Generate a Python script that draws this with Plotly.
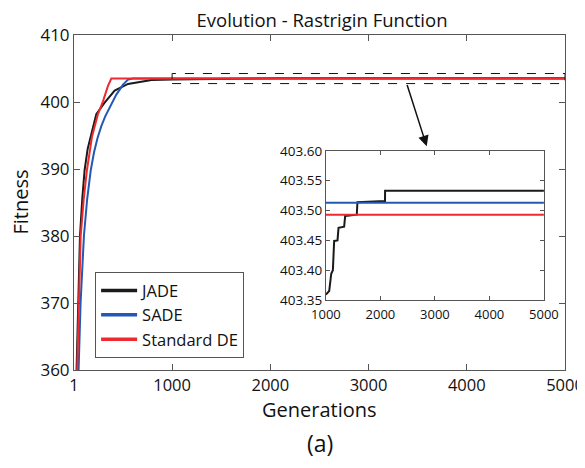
import plotly.graph_objects as go

# ---------------- data ----------------
series_names = ["JADE", "SADE", "Standard DE"]
series_colors = ["#1a1a1a", "#2359b3", "#ee2a2e"]

# main plot (generations vs fitness)
jade_gen = [1, 25, 41, 62, 85, 109, 140, 170, 228, 313, 415, 551, 790, 1000, 1061, 1079, 1098, 1128, 1140, 1152,
            1213, 1232, 1335, 1354, 1567, 1579, 2085, 2086, 5000]
jade_fit = [345, 360, 370, 380, 385.5, 389.85, 393.0, 394.8, 398.2, 399.9, 401.7, 402.7, 403.3, 403.359, 403.365,
            403.379, 403.394, 403.400, 403.423, 403.449, 403.450, 403.471, 403.473, 403.491, 403.493, 403.514,
            403.516, 403.533, 403.533]

sade_gen = [1, 48, 68, 102, 135, 172, 205, 240, 279, 320, 364, 432, 500, 551, 600, 5000]
sade_fit = [337, 360, 370, 380, 385.5, 389.85, 392.5, 394.6, 396.4, 397.9, 399.1, 401.1, 402.6, 403.35, 403.513,
            403.513]

de_gen = [1, 31, 48, 69, 100, 133, 184, 245, 296, 347, 381, 5000]
de_fit = [342, 360, 370, 380, 385.5, 389.85, 394.8, 398.2, 400.1, 402.4, 403.493, 403.493]

# inset (zoom on generations 1000-5000)
jade_in_gen = [1000, 1061, 1079, 1098, 1128, 1140, 1152, 1213, 1232, 1335, 1354, 1567, 1579, 2085, 2086, 5000]
jade_in_fit = [403.359, 403.365, 403.379, 403.394, 403.400, 403.423, 403.449, 403.450, 403.471, 403.473, 403.491,
               403.493, 403.514, 403.516, 403.533, 403.533]
sade_in_gen = [1000, 5000]
sade_in_fit = [403.513, 403.513]
de_in_gen = [1000, 5000]
de_in_fit = [403.493, 403.493]

x_ticks = [1, 1000, 2000, 3000, 4000, 5000]
y_ticks = [360, 370, 380, 390, 400, 410]
inset_x_ticks = [1000, 2000, 3000, 4000, 5000]
inset_y_ticks = [403.35, 403.40, 403.45, 403.50, 403.55, 403.60]
inset_y_labels = ["403.35", "403.40", "403.45", "403.50", "403.55", "403.60"]

zoom_box_x = [1000, 5000]
zoom_box_y = [402.75, 404.25]

FONT = "Open Sans, Noto Sans, DejaVu Sans, sans-serif"
AX = "#555555"
TXT = "#111111"

# the page body has an 8px margin, so the figure is sized to fill the rest of the window
W, H = 577, 460

fig = go.Figure()

main = [(jade_gen, jade_fit), (sade_gen, sade_fit), (de_gen, de_fit)]
inset = [(jade_in_gen, jade_in_fit), (sade_in_gen, sade_in_fit), (de_in_gen, de_in_fit)]

for (gx, gy), name, col in zip(main, series_names, series_colors):
    fig.add_trace(go.Scatter(x=gx, y=gy, mode="lines", name=name, showlegend=False,
                             line=dict(color=col, width=2), xaxis="x", yaxis="y"))

# legend-only traces with thicker lines
for name, col in zip(series_names, series_colors):
    fig.add_trace(go.Scatter(x=[None], y=[None], mode="lines", name=name, showlegend=True,
                             line=dict(color=col, width=3.5), xaxis="x", yaxis="y"))

for (gx, gy), name, col in zip(inset, series_names, series_colors):
    fig.add_trace(go.Scatter(x=gx, y=gy, mode="lines", name=name, showlegend=False,
                             line=dict(color=col, width=2), xaxis="x2", yaxis="y2"))

fig.add_shape(type="rect", xref="x", yref="y", x0=zoom_box_x[0], x1=zoom_box_x[1],
              y0=zoom_box_y[0], y1=zoom_box_y[1], line=dict(color=TXT, width=1, dash="dash"))

fig.add_annotation(xref="x", yref="y", axref="x", ayref="y", x=3592, y=393.4, ax=3388, ay=402.75,
                   text="", showarrow=True, arrowhead=2, arrowsize=1.4, arrowwidth=1.5,
                   arrowcolor=TXT, standoff=0, startstandoff=0)

# axis titles and panel label (positions relative to the 491x335 plot area)
fig.add_annotation(xref="paper", yref="paper", x=(20 - 74) / 491, y=0.5, text="Fitness", textangle=-90,
                   showarrow=False, font=dict(family=FONT, size=20, color=TXT),
                   xanchor="center", yanchor="middle")
fig.add_annotation(xref="paper", yref="paper", x=0.5, y=(370 - 410) / 335, text="Generations",
                   showarrow=False, font=dict(family=FONT, size=20, color=TXT),
                   xanchor="center", yanchor="middle")
fig.add_annotation(xref="paper", yref="paper", x=0.5, y=(370 - 443) / 335, text="(a)", showarrow=False,
                   font=dict(family=FONT, size=23, color=TXT), xanchor="center", yanchor="middle")

fig.update_layout(
    width=W, height=H,
    margin=dict(l=66, r=20, t=27, b=98),
    paper_bgcolor="white", plot_bgcolor="white",
    font=dict(family=FONT, color=TXT),
    title=dict(text="Evolution - Rastrigin Function", x=(314 / W), xanchor="center",
               y=1 - 12.5 / H, yanchor="middle", font=dict(size=18.5, color=TXT)),
    legend=dict(x=0.043, y=0.292, xanchor="left", yanchor="top", bgcolor="white",
                bordercolor="#555555", borderwidth=1, font=dict(size=16.5, color=TXT),
                tracegroupgap=0, itemwidth=36),
    xaxis=dict(domain=[0, 1], range=[1, 5000], tickvals=x_ticks, ticktext=[str(v) for v in x_ticks],
               showline=True, linecolor=AX, linewidth=1, mirror="ticks", ticks="inside", ticklen=6,
               tickcolor=AX, showgrid=False, zeroline=False, tickfont=dict(size=16.5), automargin=False),
    yaxis=dict(domain=[0, 1], range=[360, 410], tickvals=y_ticks,
               showline=True, linecolor=AX, linewidth=1, mirror="ticks", ticks="inside", ticklen=6,
               tickcolor=AX, showgrid=False, zeroline=False, tickfont=dict(size=17), automargin=False),
    xaxis2=dict(domain=[0.513, 0.957], anchor="y2", range=[1000, 5000], tickvals=inset_x_ticks,
                showline=True, linecolor=AX, linewidth=1, mirror="ticks", ticks="inside", ticklen=4,
                tickcolor=AX, showgrid=False, zeroline=False, tickfont=dict(size=13), ticklabelstandoff=2,
                automargin=False),
    yaxis2=dict(domain=[0.209, 0.654], anchor="x2", range=[403.35, 403.60], tickvals=inset_y_ticks,
                ticktext=inset_y_labels,
                showline=True, linecolor=AX, linewidth=1, mirror="ticks", ticks="inside", ticklen=4,
                tickcolor=AX, showgrid=False, zeroline=False, tickfont=dict(size=13.5), automargin=False),
)

fig.write_html("out.html")
